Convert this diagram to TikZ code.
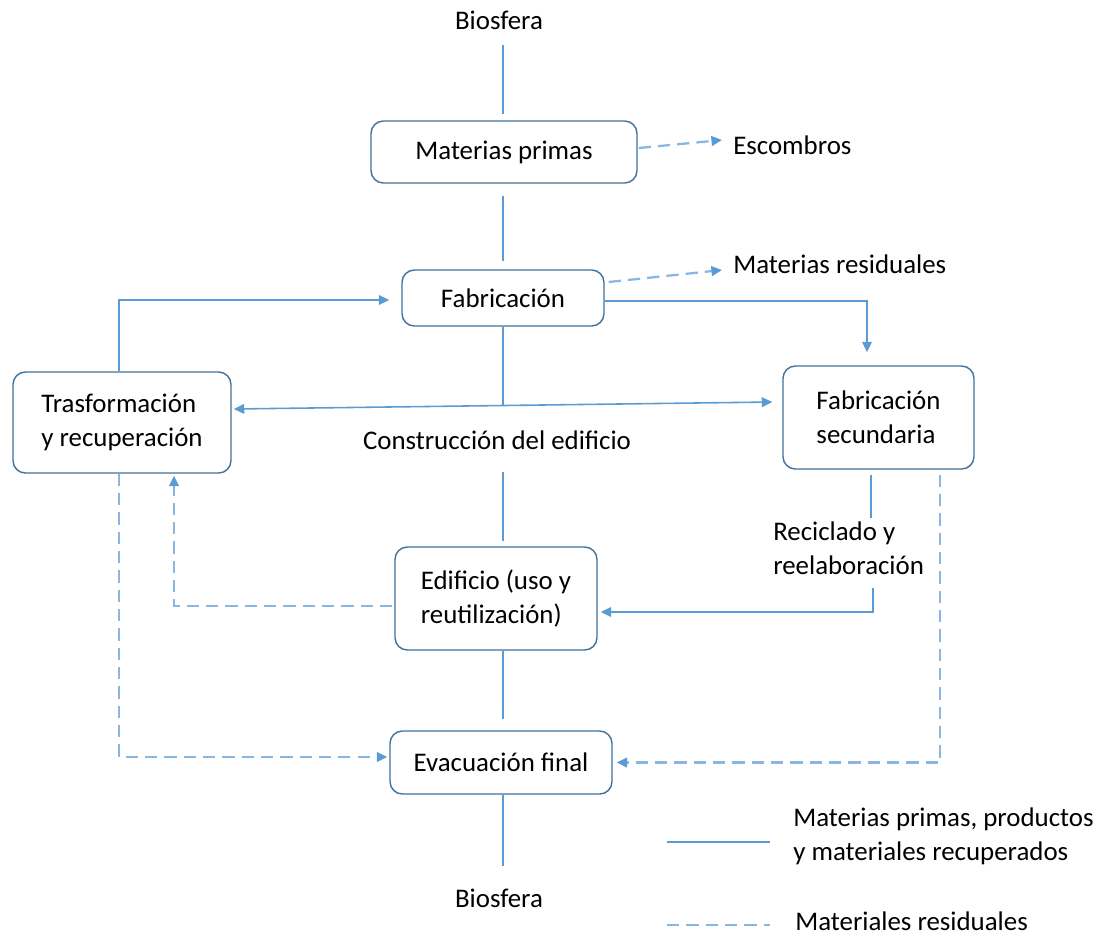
\documentclass[tikz,border=0pt]{standalone}
\usepackage{fontspec}
\setmainfont{Carlito}
\usetikzlibrary{arrows.meta,calc,positioning}

\definecolor{lineblue}{HTML}{5B9BD5}
\definecolor{boxblue}{HTML}{41719C}
\definecolor{dashblue}{HTML}{8AB7E2}

\begin{document}
\begin{tikzpicture}[
    x = 0.02cm, y = -0.02cm, % one unit = one pixel of the sketch
    > = {Triangle[length=6pt,width=5.5pt]}, % arrow head style
    font = \fontsize{15.3}{19.3}\selectfont,
    semithick % line style
    ]

    \tikzset{
    box/.style = {draw = boxblue, line width = 0.8pt, fill = white,
        rounded corners = 7pt, align = center, inner sep = 0pt},
    leftbox/.style = {box, align = left},
    txt/.style = {inner sep = 1pt, align = left},
    flow/.style = {draw = lineblue, line width = 0.9pt},
    waste/.style = {draw = dashblue, line width = 1.3pt,
        dash pattern = on 7pt off 4pt,
        -{Triangle[length=6pt,width=5.5pt,color=lineblue]}}
    }

    \useasboundingbox (0,0) rectangle (1103,938);

    % boxes
    \node[box, minimum width=5.32cm, minimum height=1.24cm] (mp) at (504,152) {Materias primas};
    \node[box, minimum width=4.04cm, minimum height=1.12cm] (fab) at (503,298) {Fabricación};
    \node[leftbox, minimum width=3.82cm, minimum height=2.06cm] (fs) at (878.5,417.5) {Fabricación\\secundaria};
    \node[leftbox, minimum width=4.36cm, minimum height=2.02cm] (tr) at (122,422.5) {Trasformación\\y recuperación};
    \node[leftbox, minimum width=4.04cm, minimum height=2.06cm] (ed) at (496,598.5) {Edificio (uso y\\reutilización)};
    \node[box, minimum width=4.44cm, minimum height=1.26cm] (ev) at (501,762.5) {Evacuación final};

    % plain texts
    \node[txt] (bio1) at (499,20) {Biosfera};
    \node[txt] (bio2) at (499,898) {Biosfera};
    \node[txt, anchor=west] (esc) at (731,145) {Escombros};
    \node[txt, anchor=west] (mres) at (731,264) {Materias residuales};
    \node[txt] (cons) at (497,440) {Construcción del edificio};
    \node[txt, anchor=west] (rec) at (771,548) {Reciclado y\\reelaboración};
    \node[txt, anchor=west] (leg1) at (791,836) {Materias primas, productos\\y materiales recuperados};
    \node[txt, anchor=west] (leg2) at (793,921) {Materiales residuales};

    \coordinate (junc) at (503,406);
    \coordinate (solidA) at (667,842);
    \coordinate (solidB) at (770,842);
    \coordinate (dashA) at (667,925);
    \coordinate (dashB) at (770,925);

    % main spine
    \draw[flow] (503,45) -- ($(mp.north)+(-1,-6)$);
    \draw[flow] ($(mp.south)+(-1,12)$) -- ($(fab.north)+(0,-8)$);
    \draw[flow] (fab.south) -- (junc);
    \draw[flow] ($(cons.south)+(6,20)$) -- ($(ed.north)+(7,-5)$);
    \draw[flow] ($(ed.south)+(7,0)$) -- ($(ev.north)+(2,-11)$);
    \draw[flow] ($(ev.south)+(2,0)$) -- ($(bio2.north)+(4,-20)$);

    % solid flows
    \draw[flow, <->] ($(tr.east)+(2,-13.5)$) -- ($(fs.west)+(-10,-15.5)$);
    \draw[flow, ->] ($(tr.north)+(-3,0)$) |- ($(fab.west)+(-12,2)$);
    \draw[flow, ->] ($(fab.east)+(0,3)$) -| ($(fs.north)+(-11.5,-13)$);
    \draw[flow] ($(fs.south)+(-7.5,5)$) -- ++(0,43);
    \draw[flow, ->] ($(fs.south)+(-5.5,118)$) |- ($(ed.east)+(3,13.5)$);

    % residual flows
    \draw[waste] ($(mp.east)+(1,-4)$) -- ($(esc.west)+(-9,-5)$);
    \draw[waste] ($(fab.east)+(4,-16)$) -- ($(mres.west)+(-9,6)$);
    \draw[waste] ($(fs.south)+(61.5,5)$) |- ($(ev.east)+(4,0)$);
    \draw[waste] ($(tr.south)+(-3,0)$) |- ($(ev.west)+(-2,-5.5)$);
    \draw[waste] ($(ed.west)+(-2,7.5)$) -| ($(tr.south)+(52,2)$);

    % legend
    \draw[flow] (solidA) -- (solidB);
    \draw[waste, -] (dashA) -- (dashB);
\end{tikzpicture}
\end{document}
